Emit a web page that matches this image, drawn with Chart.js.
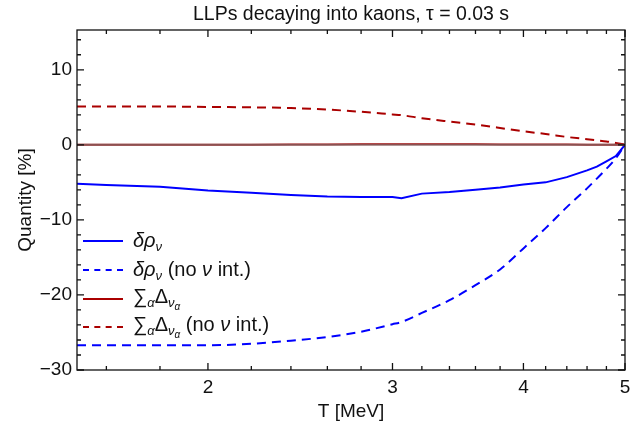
<!DOCTYPE html>
<html>
<head>
<meta charset="utf-8">
<script src="https://cdn.jsdelivr.net/npm/chart.js@4"></script>
<style>
  body { margin: 0; background: #fff; }
  #wrap { position: relative; width: 639px; height: 426px; font-family: "Liberation Sans", Arial, sans-serif; }
  #legend { position: absolute; left: 83px; top: 227px; font-size: 20px; color: #111; }
  .row { display: flex; align-items: center; height: 28.7px; line-height: 1; }
  .ln { width: 40px; height: 0; margin-right: 10px; }
  .row sub { font-size: 13px; vertical-align: -4px; }
  .row sub sub { font-size: 10px; vertical-align: -3px; }
</style>
</head>
<body>
<div id="wrap">
  <canvas id="chartLLP" width="639" height="426"></canvas>
  <div id="legend">
    <div class="row"><span class="ln" style="border-top:2px solid #0000ff"></span><span><i>δρ</i><sub><i>ν</i></sub></span></div>
    <div class="row"><span class="ln" style="border-top:2px dashed #0000ff"></span><span><i>δρ</i><sub><i>ν</i></sub> (no <i>ν</i> int.)</span></div>
    <div class="row"><span class="ln" style="border-top:2px solid #aa0000"></span><span>∑<sub><i>α</i></sub>Δ<sub><i>ν</i><sub><i>α</i></sub></sub></span></div>
    <div class="row"><span class="ln" style="border-top:2px dashed #aa0000"></span><span>∑<sub><i>α</i></sub>Δ<sub><i>ν</i><sub><i>α</i></sub></sub> (no <i>ν</i> int.)</span></div>
  </div>
</div>
<script>
const chartTitle = 'LLPs decaying into kaons, τ = 0.03 s';

// temperatures (MeV)
const temps = [1.5, 1.6, 1.8, 2.0, 2.2, 2.4, 2.6, 2.8, 3.0, 3.06, 3.2, 3.4, 3.6, 3.8, 4.0, 4.2, 4.4, 4.6, 4.7, 4.8, 4.9, 5.0];

// quantities in %
const deltaRho       = [-5.2, -5.35, -5.6, -6.1, -6.4, -6.7, -6.9, -6.95, -6.95, -7.1, -6.5, -6.3, -6.0, -5.7, -5.3, -5.0, -4.3, -3.4, -2.9, -2.2, -1.5, 0];
const deltaRhoNoInt  = [-26.7, -26.7, -26.7, -26.7, -26.5, -26.1, -25.6, -24.9, -23.9, -23.6, -22.4, -20.7, -18.7, -16.6, -13.8, -11.1, -8.3, -5.8, -4.5, -3.2, -1.8, 0];
const sumDelta       = [0, 0, 0, 0, 0.02, 0.04, 0.06, 0.08, 0.08, 0.08, 0.08, 0.08, 0.07, 0.06, 0.05, 0.04, 0.03, 0.02, 0.02, 0.01, 0.01, 0];
const sumDeltaNoInt  = [5.1, 5.1, 5.1, 5.05, 5.0, 4.9, 4.7, 4.4, 4.05, 3.95, 3.55, 3.1, 2.7, 2.25, 1.8, 1.45, 1.05, 0.75, 0.6, 0.45, 0.25, 0.05];
const zeroLine       = temps.map(() => 0);

const xTicks = [2, 3, 4, 5];
const xMinor = [1.6, 1.8, 2.2, 2.4, 2.6, 2.8, 3.2, 3.4, 3.6, 3.8, 4.2, 4.4, 4.6, 4.8];
const yTicks = [-30, -20, -10, 0, 10];
const yMinor = [];
for (let v = -28; v <= 14; v += 2) if (v % 10 !== 0) yMinor.push(v);

const pts = arr => arr.map((v, i) => ({ x: temps[i], y: v }));

const fontFamily = '"Liberation Sans", Arial, sans-serif';
const font = { family: fontFamily, size: 19 };

// Mathematica-style frame with inward ticks on all four sides, title centred over the plot
const framePlugin = {
    id: 'frame',
    afterDraw(chart) {
        const { ctx, chartArea: a, scales } = chart;
        ctx.save();
        ctx.strokeStyle = '#111';
        ctx.lineWidth = 1.3;
        ctx.strokeRect(a.left, a.top, a.right - a.left, a.bottom - a.top);
        ctx.beginPath();
        const xt = (v, len) => {
            const px = scales.x.getPixelForValue(v);
            ctx.moveTo(px, a.bottom); ctx.lineTo(px, a.bottom - len);
            ctx.moveTo(px, a.top); ctx.lineTo(px, a.top + len);
        };
        const yt = (v, len) => {
            const py = scales.y.getPixelForValue(v);
            ctx.moveTo(a.left, py); ctx.lineTo(a.left + len, py);
            ctx.moveTo(a.right, py); ctx.lineTo(a.right - len, py);
        };
        xTicks.forEach(v => xt(v, 7));
        xMinor.forEach(v => xt(v, 4));
        yTicks.forEach(v => yt(v, 7));
        yMinor.forEach(v => yt(v, 4));
        ctx.stroke();

        ctx.fillStyle = '#111';
        ctx.font = '19.5px ' + fontFamily;
        ctx.textAlign = 'center';
        ctx.textBaseline = 'middle';
        ctx.fillText(chartTitle, (a.left + a.right) / 2, 15);
        ctx.restore();
    }
};

// first dataset is drawn on top
new Chart(document.getElementById('chartLLP'), {
    type: 'line',
    data: {
        datasets: [
            { data: pts(zeroLine), borderColor: 'rgba(125,115,115,0.7)', borderWidth: 2 },
            { data: pts(sumDelta), borderColor: '#aa0000', borderWidth: 2 },
            { data: pts(deltaRho), borderColor: '#0000ff', borderWidth: 2 },
            { data: pts(deltaRhoNoInt), borderColor: '#0000ff', borderWidth: 2, borderDash: [9, 6], cubicInterpolationMode: 'monotone' },
            { data: pts(sumDeltaNoInt), borderColor: '#aa0000', borderWidth: 2, borderDash: [9, 6], cubicInterpolationMode: 'monotone' }
        ]
    },
    options: {
        responsive: false,
        animation: false,
        elements: { point: { radius: 0 } },
        layout: { padding: { top: 30, right: 14 } },
        plugins: {
            legend: { display: false },
            tooltip: { enabled: false },
            title: { display: false }
        },
        scales: {
            x: {
                type: 'logarithmic',
                min: 1.5,
                max: 5,
                afterBuildTicks: s => { s.ticks = xTicks.map(v => ({ value: v })); },
                afterFit: s => { s.height = 56; },
                grid: { display: false, drawTicks: false },
                border: { display: false },
                ticks: { color: '#111', font, padding: 6, maxRotation: 0, autoSkip: false, callback: v => String(v) },
                title: { display: true, text: 'T [MeV]', color: '#111', font, padding: { top: 0, bottom: 3 } }
            },
            y: {
                min: -30,
                max: 15.3,
                afterBuildTicks: s => { s.ticks = yTicks.map(v => ({ value: v })); },
                afterFit: s => { s.width = 77; },
                grid: { display: false, drawTicks: false },
                border: { display: false },
                ticks: { color: '#111', font, padding: 5, callback: v => (v < 0 ? '\u2212' + Math.abs(v) : String(v)) },
                title: { display: true, text: 'Quantity [%]', color: '#111', font, padding: { top: 14, bottom: 0 } }
            }
        }
    },
    plugins: [framePlugin]
});
</script>
</body>
</html>
